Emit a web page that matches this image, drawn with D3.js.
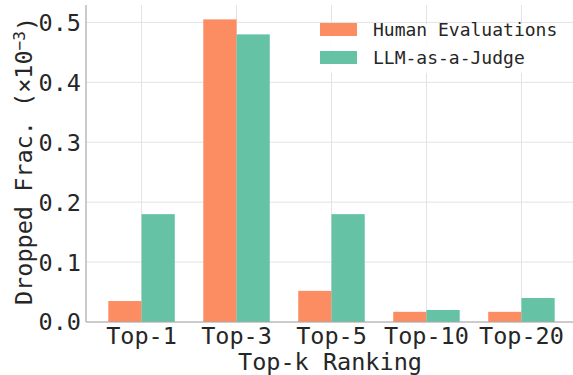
<!DOCTYPE html>
<html>
<head>
<meta charset="utf-8">
<script src="https://cdn.jsdelivr.net/npm/d3@7"></script>
<style>
  body { margin: 0; background: #fff; }
  svg { font-family: "DejaVu Sans Mono", monospace; }
</style>
</head>
<body>
<div id="chart"></div>
<script>
// Data
var categories = ["Top-1", "Top-3", "Top-5", "Top-10", "Top-20"];
var humanVals = [0.035, 0.505, 0.052, 0.017, 0.017];
var llmVals = [0.18, 0.48, 0.18, 0.02, 0.04];
var seriesNames = ["Human Evaluations", "LLM-as-a-Judge"];
var yTicks = [0.0, 0.1, 0.2, 0.3, 0.4, 0.5];

var width = 573, height = 375;
var colors = ["#fc8d62", "#66c2a5"];
var barW = 0.35;

var svg = d3.select("#chart")
    .append("svg")
    .attr("width", width)
    .attr("height", height);

// plot area
var x = d3.scaleLinear().domain([-0.585, categories.length - 1 + 0.585]).range([86, 577]);
var y = d3.scaleLinear().domain([0, 0.529]).range([322, 5]);

// grid
svg.append("g").selectAll("line")
    .data(yTicks)
    .enter().append("line")
    .attr("x1", x.range()[0]).attr("x2", x.range()[1])
    .attr("y1", function(d) { return y(d); })
    .attr("y2", function(d) { return y(d); })
    .attr("stroke", "#e3e3e3").attr("stroke-width", 1);

svg.append("g").selectAll("line")
    .data(categories)
    .enter().append("line")
    .attr("x1", function(d, i) { return x(i); })
    .attr("x2", function(d, i) { return x(i); })
    .attr("y1", y.range()[0]).attr("y2", y.range()[1])
    .attr("stroke", "#e3e3e3").attr("stroke-width", 1);

// bars
var series = [humanVals, llmVals];
series.forEach(function(vals, s) {
  svg.append("g").selectAll("rect")
      .data(vals)
      .enter().append("rect")
      .attr("x", function(d, i) { return x(i - barW + s * barW); })
      .attr("width", x(barW) - x(0))
      .attr("y", function(d) { return y(d); })
      .attr("height", function(d) { return y(0) - y(d); })
      .attr("fill", colors[s]);
});

// spines
svg.append("line")
    .attr("x1", x.range()[0]).attr("x2", x.range()[0])
    .attr("y1", y.range()[0]).attr("y2", y.range()[1])
    .attr("stroke", "#a8a8a8").attr("stroke-width", 1.2);
svg.append("line")
    .attr("x1", x.range()[0]).attr("x2", x.range()[1])
    .attr("y1", y.range()[0]).attr("y2", y.range()[0])
    .attr("stroke", "#a8a8a8").attr("stroke-width", 1.2);

// y tick labels
svg.append("g").selectAll("text")
    .data(yTicks)
    .enter().append("text")
    .attr("x", 81)
    .attr("y", function(d) { return y(d); })
    .attr("dy", "0.36em")
    .attr("text-anchor", "end")
    .style("font-size", "23.5px")
    .attr("fill", "#262626")
    .text(function(d) { return d3.format(".1f")(d); });

// x tick labels
svg.append("g").selectAll("text")
    .data(categories)
    .enter().append("text")
    .attr("x", function(d, i) { return x(i); })
    .attr("y", 344)
    .attr("text-anchor", "middle")
    .style("font-size", "23.5px")
    .attr("fill", "#262626")
    .text(function(d) { return d; });

// axis titles
svg.append("text")
    .attr("x", 330)
    .attr("y", 370)
    .attr("text-anchor", "middle")
    .style("font-size", "23.5px")
    .attr("fill", "#262626")
    .text("Top-k Ranking");

var yl = svg.append("text")
    .attr("transform", "translate(32,161) rotate(-90)")
    .attr("text-anchor", "middle")
    .style("font-size", "23.5px")
    .attr("fill", "#262626");
yl.append("tspan").text("Dropped Frac. (\u00d710");
yl.append("tspan").attr("dy", "-0.45em").style("font-size", "16px").text("\u22123");
yl.append("tspan").attr("dy", "0.45em").text(")");

// legend
var legend = svg.append("g");
legend.append("rect")
    .attr("x", 312).attr("y", 24)
    .attr("width", 255).attr("height", 49)
    .attr("fill", "#fff").attr("opacity", 0.85);
seriesNames.forEach(function(name, i) {
  legend.append("rect")
      .attr("x", 320).attr("y", 23 + i * 28)
      .attr("width", 37).attr("height", 13)
      .attr("fill", colors[i]);
  legend.append("text")
      .attr("x", 373).attr("y", 29.5 + i * 28)
      .attr("dy", "0.36em")
      .style("font-size", "18px")
      .attr("fill", "#262626")
      .text(name);
});
</script>
</body>
</html>
